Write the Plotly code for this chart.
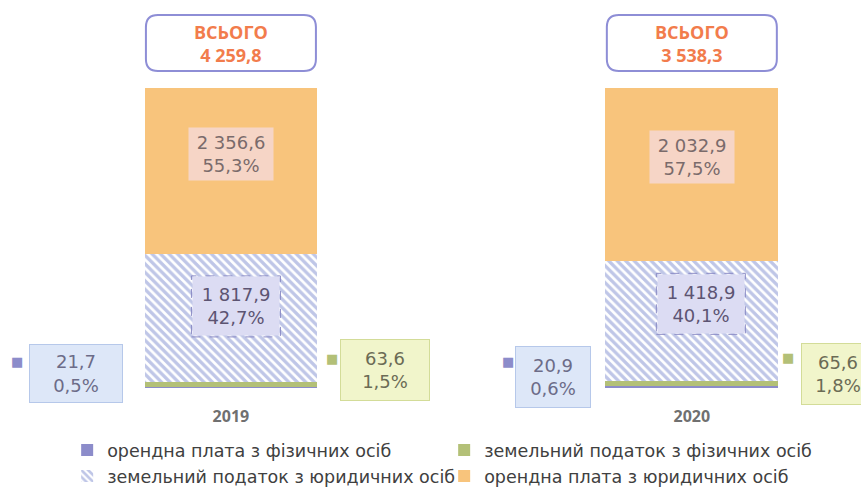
import plotly.graph_objects as go

# ---------------- data ----------------
years = ["2019", "2020"]
series_names = [
    "орендна плата з фізичних осіб",
    "земельний податок з фізичних осіб",
    "земельний податок з юридичних осіб",
    "орендна плата з юридичних осіб",
]
orendna_fiz = [21.7, 20.9]
zem_fiz = [63.6, 65.6]
zem_yur = [1817.9, 1418.9]
orendna_yur = [2356.6, 2032.9]

share_orendna_fiz = [0.5, 0.6]
share_zem_fiz = [1.5, 1.8]
share_zem_yur = [42.7, 40.1]
share_orendna_yur = [55.3, 57.5]

values = [orendna_fiz, zem_fiz, zem_yur, orendna_yur]
shares = [share_orendna_fiz, share_zem_fiz, share_zem_yur, share_orendna_yur]
totals = [sum(v[i] for v in values) for i in range(len(years))]


def fmt(v):
    return f"{v:,.1f}".replace(",", " ").replace(".", ",")


def pct(v):
    return f"{v:.1f}%".replace(".", ",")


# ---------------- styles ----------------
colors = ["#8c8cca", "#b3c077", "#7f8dd0", "#f8c47c"]
FONT = "Open Sans"
NUMFONT = "DejaVu Sans"
W, H = 861, 489
legend_rows = ["legend", "legend", "legend2", "legend2"]

fig = go.Figure()
for k, name in enumerate(series_names):
    marker = dict(color=colors[k], line=dict(width=0))
    if k == 2:
        marker = dict(
            color="white",
            line=dict(width=0),
            pattern=dict(shape="\\", fgcolor=colors[2], bgcolor="white",
                         size=6, solidity=0.55),
        )
    fig.add_trace(go.Bar(
        x=years, y=shares[k], name=name, marker=marker, width=0.375,
        hoverinfo="skip", legend=legend_rows[k],
    ))

annotations = []
shapes = []

for i, yr in enumerate(years):
    # totals box
    y_tot = 100 + 15
    shapes.append(dict(
        type="path", xref="x", yref="y", xsizemode="pixel", ysizemode="pixel",
        xanchor=i, yanchor=y_tot,
        path=("M -73,-28 L 73,-28 Q 85,-28 85,-16 L 85,16 Q 85,28 73,28 "
              "L -73,28 Q -85,28 -85,16 L -85,-16 Q -85,-28 -73,-28 Z"),
        line=dict(color="#8e8ed6", width=2), fillcolor="white",
    ))
    annotations.append(dict(
        x=i, y=y_tot, xref="x", yref="y", showarrow=False,
        text=f"<b>ВСЬОГО<br>{fmt(totals[i])}</b>",
        font=dict(family=FONT, size=18, color="#f27c4c"),
    ))

    base = [0.0]
    for k in range(4):
        base.append(base[-1] + shares[k][i])

    # orange segment label
    annotations.append(dict(
        x=i, y=base[3] + shares[3][i] * 0.6, xref="x", yref="y", showarrow=False,
        text=f"{fmt(orendna_yur[i])}<br>{pct(share_orendna_yur[i])}",
        font=dict(family=NUMFONT, size=18, color="#7a6b6b"),
        bgcolor="#f6d5c6", width=82, height=50,
    ))
    # hatched segment label
    hx = 5 if i == 0 else 9
    hy = base[2] + shares[2][i] * 0.59 + (0 if i == 0 else 2)
    annotations.append(dict(
        x=i, y=hy, xref="x", yref="y", showarrow=False, xshift=hx,
        text=f"{fmt(zem_yur[i])}<br>{pct(share_zem_yur[i])}",
        font=dict(family=NUMFONT, size=18, color="#5c5472"),
        bgcolor="#dcdcf3", width=84, height=56,
    ))
    shapes.append(dict(
        type="rect", xref="x", yref="y", xsizemode="pixel", ysizemode="pixel",
        xanchor=i, yanchor=hy, x0=hx - 44.5, x1=hx + 44.5, y0=-30.5, y1=30.5,
        line=dict(color="#8a8ac4", width=1, dash="dash"), layer="above",
    ))

# outside labels (small segments)
side = [
    # (series idx, year idx, xshift of box, yshift, marker xshift, box w, box h, bg, border, text color)
    (0, 0, -155, 14, -214, 90, 55, "#dde7f8", "#b6c8ea", "#6c6c88"),
    (1, 0, 154, 14, 101, 86, 58, "#f1f5cb", "#d3dc98", "#6b6b55"),
    (0, 1, -139, 10, -184, 72, 58, "#dde7f8", "#b6c8ea", "#6c6c88"),
    (1, 1, 146, 10, 96, 70, 58, "#f1f5cb", "#d3dc98", "#6b6b55"),
]
for (k, i, dx, dy, mx, bw, bh, bg, bc, tc) in side:
    yv = sum(shares[j][i] for j in range(k)) + shares[k][i] / 2
    annotations.append(dict(
        x=i, y=yv, xref="x", yref="y", showarrow=False, xshift=dx, yshift=dy,
        text=f"{fmt(values[k][i])}<br>{pct(shares[k][i])}",
        font=dict(family=NUMFONT, size=18, color=tc),
        bgcolor=bg, bordercolor=bc, borderwidth=1, width=bw, height=bh,
    ))
    annotations.append(dict(
        x=i, y=yv, xref="x", yref="y", showarrow=False, xshift=mx, yshift=26,
        text="■", font=dict(family=NUMFONT, size=13, color=colors[k]),
    ))

legend_style = dict(
    orientation="h", x=0.078, xanchor="left", yanchor="middle",
    entrywidth=332, entrywidthmode="pixels",
    font=dict(family=NUMFONT, size=17.5, color="#404040"),
    traceorder="normal", itemclick=False, itemdoubleclick=False,
    bgcolor="rgba(0,0,0,0)",
)

fig.update_layout(
    width=W, height=H,
    margin=dict(l=0, r=0, t=0, b=0, autoexpand=False),
    paper_bgcolor="white", plot_bgcolor="white",
    barmode="stack", bargap=0,
    showlegend=True,
    legend=dict(legend_style, y=1 - 450 / H),
    legend2=dict(legend_style, y=1 - 476 / H),
    xaxis=dict(
        range=[-0.501, 1.367], showgrid=False, zeroline=False, showline=False,
        ticks="", tickfont=dict(family=FONT, size=16, color="#707070", weight="bold"),
        ticklabelstandoff=17, fixedrange=True,
    ),
    yaxis=dict(
        domain=[(H - 388) / H, 1], range=[0, 388 / 3], visible=False, fixedrange=True,
    ),
    annotations=annotations,
    shapes=shapes,
)

fig.write_html(
    "out.html",
    config={"displayModeBar": False},
    post_script="document.body.style.margin='0';document.body.style.overflow='hidden';",
)
